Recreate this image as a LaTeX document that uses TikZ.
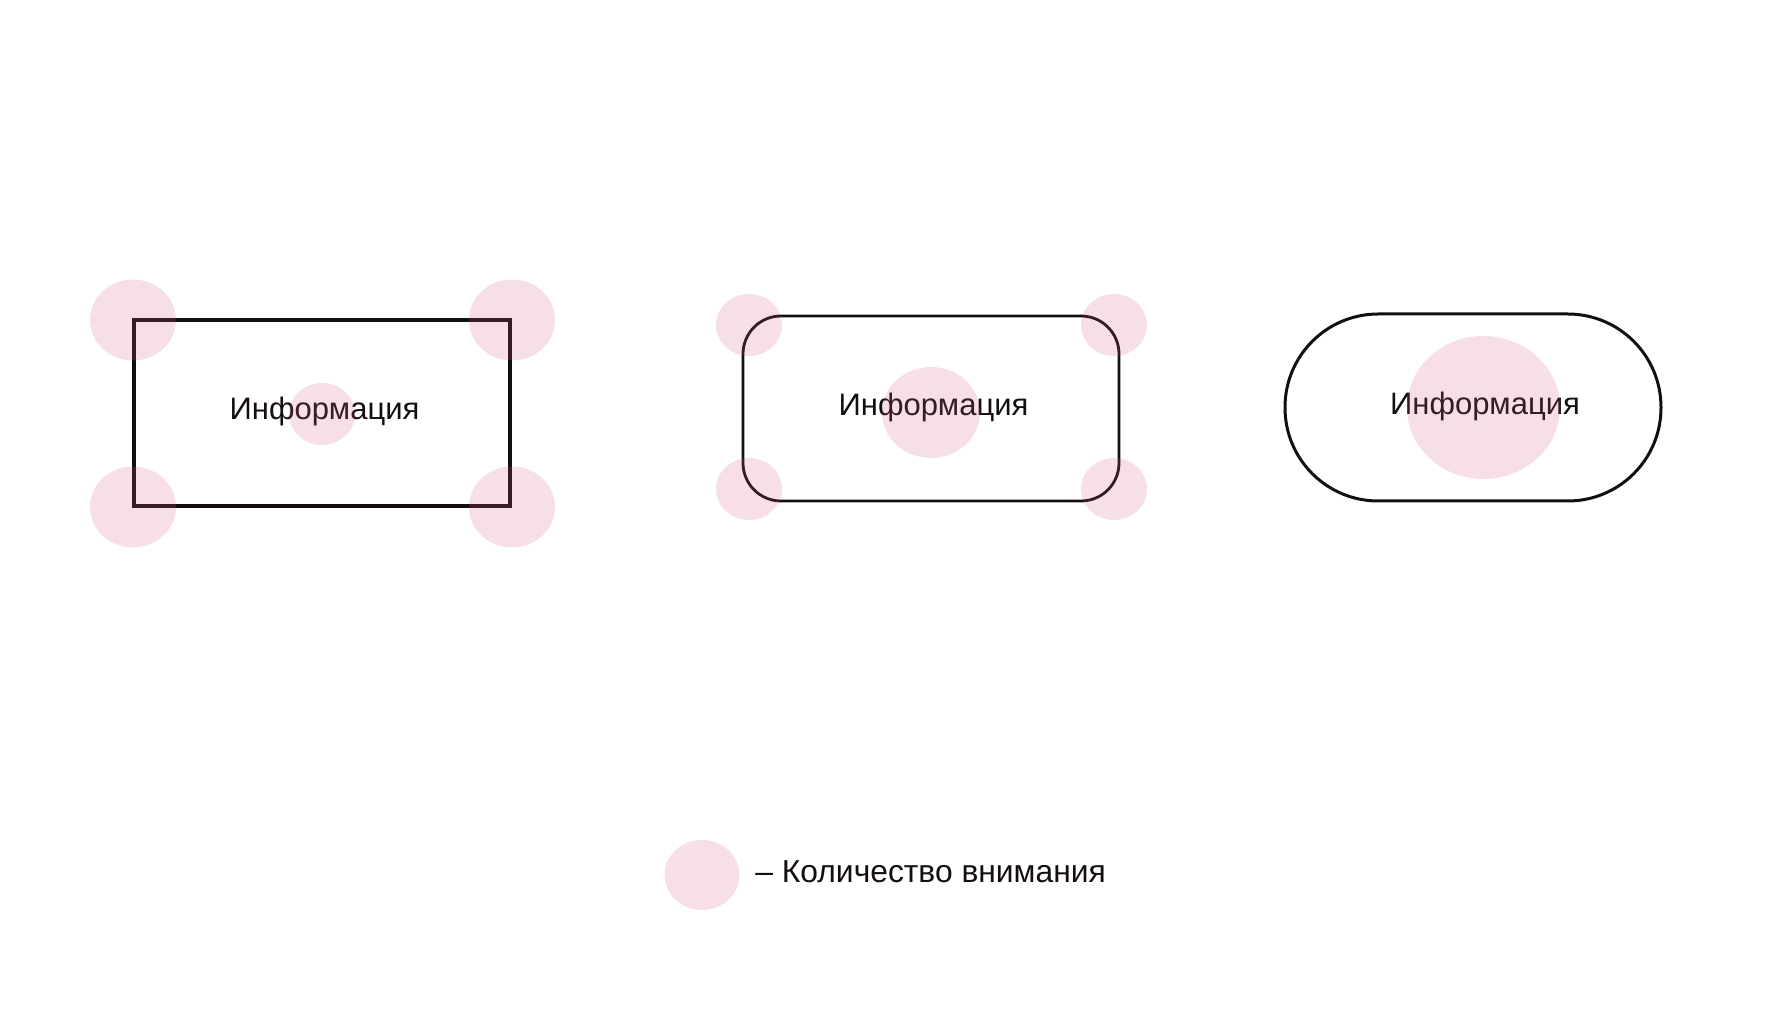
\documentclass[tikz,border=0pt]{standalone}
\usepackage{fontspec}
\setmainfont{Liberation Sans}
\definecolor{ink}{RGB}{20,14,16}
\definecolor{attn}{RGB}{214,84,120}
\begin{document}
\begin{tikzpicture}[x=0.5pt,y=-0.5pt,
  shapebox/.style={draw=ink,line width=1.55pt,rectangle,inner sep=0pt,fill=none},
  label/.style={inner sep=0pt,text=ink,font=\fontsize{15.5pt}{18pt}\selectfont},
  spot/.style={fill=attn,fill opacity=0.19,draw=none}]
\useasboundingbox (0,0) rectangle (1784,1026);
% shapes
\node[shapebox,minimum width=188pt,minimum height=93pt] (sq) at (322,413) {};
\node[shapebox,line width=1.4pt,rounded corners=19pt,minimum width=188pt,minimum height=92.5pt] (rr) at (931,408.5) {};
\node[shapebox,line width=1.5pt,rounded corners=46.6pt,minimum width=188pt,minimum height=93.5pt] (st) at (1473,407.5) {};
% texts
\node[label,anchor=base] (t1) at (324.5,420) {Информация};
\node[label,anchor=base] (t2) at (933.5,416) {Информация};
\node[label,anchor=base] (t3) at (1485,415) {Информация};
\node[label,anchor=base west,font=\fontsize{15.9pt}{18pt}\selectfont] (lt) at (755,882) {– Количество внимания};
% attention spots
\fill[spot] (133,320) ellipse (43 and 40.5);
\fill[spot] (512,320) ellipse (43 and 40.5);
\fill[spot] (133,507) ellipse (43 and 40.5);
\fill[spot] (512,507) ellipse (43 and 40.5);
\fill[spot] (322,414) ellipse (33 and 31);
\fill[spot] (749,325) ellipse (33 and 31);
\fill[spot] (1114,325) ellipse (33 and 31);
\fill[spot] (749,489) ellipse (33 and 31);
\fill[spot] (1114,489) ellipse (33 and 31);
\fill[spot] (931,412.5) ellipse (49 and 45.5);
\fill[spot] (1483.5,407.5) ellipse (76.5 and 71.5);
\fill[spot] (702,875) ellipse (37.5 and 35);
\end{tikzpicture}
\end{document}
